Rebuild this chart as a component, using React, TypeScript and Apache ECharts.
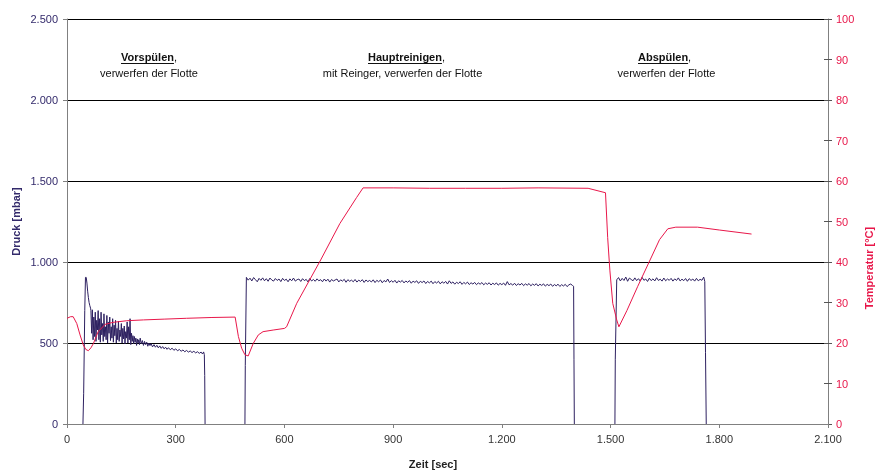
import React, { useEffect, useRef } from 'react';
import * as echarts from 'echarts';

// ---- Data ----
const xTicks = [0, 300, 600, 900, 1200, 1500, 1800, 2100];

// Vorspülen pressure [sec, mbar]
const pressureRinse1: number[][] = [
  [44, 0], [46, 190], [49, 700], [51, 905], [53, 905], [55, 870], [57, 820], [59, 780], [61, 750], [63, 730], [65, 715],
  [66, 700], [68, 560], [70, 705], [72, 520], [74, 660], [76, 540], [78, 690], [80, 510], [82, 640], [84, 580], [86, 700], [88, 520],
  [90, 650], [92, 505], [94, 690], [96, 550], [98, 620], [100, 510], [102, 680], [104, 540], [106, 600], [108, 520], [110, 670],
  [112, 500], [114, 630], [116, 560], [118, 660], [120, 515], [122, 600], [124, 530], [126, 650], [128, 505], [130, 610], [132, 545],
  [134, 640], [136, 500], [138, 590], [140, 520], [142, 635], [144, 510], [146, 580], [148, 540], [150, 620], [152, 500], [154, 590],
  [156, 525], [158, 605], [160, 495], [162, 570], [164, 530], [166, 630], [168, 500], [170, 600], [172, 520], [174, 650], [176, 490],
  [178, 560], [180, 510], [182, 545], [184, 495], [186, 540], [188, 505], [190, 530], [192, 485], [194, 525], [196, 500], [198, 520],
  [200, 490], [202, 530], [205, 495], [208, 515], [211, 485], [214, 510], [217, 490], [220, 505], [223, 480], [226, 500], [229, 484],
  [232, 496], [236, 476], [240, 490], [244, 474], [248, 486], [252, 470], [256, 482], [260, 467], [264, 478], [268, 464], [272, 474],
  [276, 461], [280, 471], [285, 458], [290, 468], [295, 455], [300, 464], [305, 452], [310, 460], [315, 449], [320, 457], [325, 446],
  [330, 454], [335, 444], [340, 451], [345, 441], [350, 449], [355, 439], [360, 446], [365, 436], [370, 444], [374, 432], [377, 445],
  [379, 428], [380, 300], [381, 0],
];

// Hauptreinigen plateau: samples every 5 s from 495 s
const mainRise: number[][] = [[491, 0], [492, 360]];
const mainStart = 495;
const mainStep = 5;
const pressureMain = [
  905, 888, 900, 883, 904, 891, 878, 899, 887, 902,
  884, 897, 881, 901, 889, 882, 898, 886, 895, 879,
  899, 886, 894, 878, 896, 884, 901, 882, 891, 895,
  880, 897, 885, 893, 877, 898, 883, 892, 881, 896,
  884, 891, 878, 895, 882, 894, 876, 892, 883, 889,
  895, 877, 890, 882, 893, 875, 891, 881, 888, 878,
  892, 876, 888, 880, 891, 874, 889, 879, 886, 877,
  890, 873, 887, 878, 889, 872, 886, 877, 895, 874,
  885, 875, 887, 870, 884, 876, 886, 871, 883, 874,
  885, 869, 882, 874, 884, 868, 881, 873, 883, 867,
  880, 871, 882, 866, 879, 870, 881, 865, 878, 869,
  880, 864, 884, 868, 877, 863, 875, 867, 878, 862,
  874, 865, 876, 861, 872, 864, 874, 860, 871, 863,
  873, 859, 870, 862, 872, 858, 869, 861, 871, 857,
  868, 860, 870, 856, 879, 859, 867, 857, 869, 855,
  866, 858, 868, 854, 865, 857, 867, 853, 864, 856,
  866, 852, 863, 855, 865, 851, 862, 854, 864, 850,
  861, 853, 863, 849, 860, 852, 862, 848, 859, 864,
  855,
];
const pressureMainEnd: number[][] = [[1398, 850], [1399, 400], [1400, 0]];

// Abspülen plateau: samples every 5 s from 1517 s
const rinseRise: number[][] = [[1512, 0], [1513, 400]];
const rinseStart = 1517;
const rinseStep = 5;
const pressureRinse2 = [
  890, 904, 883, 899, 886, 907, 881, 901, 892, 884,
  902, 885, 897, 882, 905, 887, 895, 880, 900, 885,
  896, 883, 903, 886, 894, 882, 901, 884, 895, 887,
  899, 882, 896, 886, 902, 883, 894, 885, 898, 881,
  897, 886, 895, 882, 899, 884, 893, 887, 907,
];
const pressureRinse2End: number[][] = [[1760, 880], [1762, 440], [1764, 0]];

// Temperature [sec, °C]
const temperature: number[][] = [
  [0, 26.1], [10, 26.5], [17, 26.5], [27, 24.8], [36, 22], [45, 19.5], [52, 18.4], [59, 18.1], [66, 18.8], [73, 19.9],
  [86, 22.8], [105, 24.6], [127, 25.1], [165, 25.5], [211, 25.7], [270, 25.9], [330, 26.1], [400, 26.3], [464, 26.4],
  [473, 21.6], [482, 18.7], [491, 17.1], [500, 16.8], [514, 19.9], [528, 22], [541, 22.8], [569, 23.2], [600, 23.6],
  [606, 24], [634, 29.8], [700, 40.5], [753, 49.5], [799, 55.9], [817, 58.3], [900, 58.3], [1000, 58.2], [1100, 58.2],
  [1200, 58.2], [1300, 58.3], [1438, 58.2], [1486, 57.1], [1492, 46], [1498, 38], [1506, 29.8], [1517, 25.7], [1523, 24],
  [1545, 28], [1575, 34], [1609, 40.5], [1635, 45.5], [1658, 48.2], [1680, 48.6], [1740, 48.6], [1800, 47.9], [1889, 46.9],
];

const fmt = (v: number) => String(v).replace(/\B(?=(\d{3})+(?!\d))/g, '.');

const FONT = '"Liberation Sans", Arial, sans-serif';
const PURPLE = '#332a6b';
const RED = '#e8174a';
const LINE_P = '#2d2060';

const measure = (text: string, font: string) => {
  const ctx = document.createElement('canvas').getContext('2d');
  if (!ctx) return text.length * 6;
  ctx.font = font;
  return ctx.measureText(text).width;
};

export default function App() {
  const ref = useRef<HTMLDivElement>(null);
  useEffect(() => {
    document.body.style.margin = '0';
    const chart = echarts.init(ref.current!, undefined, { renderer: 'svg' });

    const segments: number[][][] = [
      pressureRinse1,
      [...mainRise, ...pressureMain.map((v, i) => [mainStart + i * mainStep, v]), ...pressureMainEnd],
      [...rinseRise, ...pressureRinse2.map((v, i) => [rinseStart + i * rinseStep, v]), ...pressureRinse2End],
    ];

    const annotation = (bold: string, cx1: number, line2: string, cx2: number) => {
      const wb = measure(bold, `bold 11px ${FONT}`);
      const wc = measure(',', `11px ${FONT}`);
      const x = Math.round(cx1 - (wb + wc) / 2);
      return [
        {
          type: 'text', x, y: 57,
          style: {
            text: `{b|${bold}}{n|,}`, fill: '#111', fontSize: 11, fontFamily: FONT,
            textAlign: 'left', textVerticalAlign: 'middle',
            rich: {
              b: { fontWeight: 'bold', fontSize: 11, fontFamily: FONT, fill: '#111' },
              n: { fontSize: 11, fontFamily: FONT, fill: '#111' },
            },
          },
        },
        { type: 'line', shape: { x1: x, y1: 63.5, x2: x + wb, y2: 63.5 }, style: { stroke: '#111', lineWidth: 1 } },
        {
          type: 'text', x: cx2, y: 73,
          style: { text: line2, fill: '#111', fontSize: 11, fontFamily: FONT, textAlign: 'center', textVerticalAlign: 'middle' },
        },
      ];
    };

    chart.setOption({
      animation: false,
      textStyle: { fontFamily: FONT },
      grid: { left: 67, right: 47, top: 19, bottom: 46, containLabel: false },
      xAxis: {
        type: 'value', min: 0, max: 2100, interval: 300, z: 10,
        axisLine: { show: true, lineStyle: { color: '#808080', width: 1 } },
        axisTick: { show: true, length: 4, lineStyle: { color: '#808080' } },
        axisLabel: { color: '#333', fontSize: 11, margin: 9, formatter: (v: number) => fmt(v), customValues: xTicks },
        splitLine: { show: false },
      },
      yAxis: [
        {
          type: 'value', min: 0, max: 2500, interval: 500, position: 'left',
          axisLine: { show: true, lineStyle: { color: '#808080', width: 1 } },
          axisTick: { show: true, length: 4, lineStyle: { color: '#808080' } },
          axisLabel: { color: PURPLE, fontSize: 11, margin: 9, formatter: (v: number) => fmt(v) },
          splitLine: { show: true, showMinLine: false, lineStyle: { color: '#000', width: 1 } },
        },
        {
          type: 'value', min: 0, max: 100, interval: 10, position: 'right',
          axisLine: { show: true, lineStyle: { color: '#808080', width: 1 } },
          axisTick: { show: true, length: 4, lineStyle: { color: '#555' } },
          axisLabel: { color: RED, fontSize: 11, margin: 8 },
          splitLine: { show: false },
        },
        {
          type: 'value', min: 0, max: 100, interval: 10, position: 'right',
          axisLine: { show: false },
          axisTick: { show: true, inside: true, length: 4, lineStyle: { color: '#555' } },
          axisLabel: { show: false },
          splitLine: { show: false },
        },
      ],
      series: [
        ...segments.map((seg, i) => ({
          name: 'Druck', id: 'druck' + i, type: 'line', yAxisIndex: 0, data: seg, showSymbol: false,
          lineStyle: { color: LINE_P, width: 1 }, itemStyle: { color: LINE_P }, z: 2,
        })),
        {
          name: 'Temperatur', type: 'line', yAxisIndex: 1, data: temperature, showSymbol: false,
          lineStyle: { color: RED, width: 1 }, itemStyle: { color: RED }, z: 3,
        },
      ],
      graphic: [
        ...annotation('Vorspülen', 149.5, 'verwerfen der Flotte', 149),
        ...annotation('Hauptreinigen', 406.5, 'mit Reinger, verwerfen der Flotte', 402.5),
        ...annotation('Abspülen', 664.5, 'verwerfen der Flotte', 666.5),
        {
          type: 'text', x: 15.5, y: 221.5, rotation: Math.PI / 2,
          style: { text: 'Druck [mbar]', fill: PURPLE, fontSize: 11, fontWeight: 'bold', fontFamily: FONT, textAlign: 'center', textVerticalAlign: 'middle' },
        },
        {
          type: 'text', x: 868.5, y: 268, rotation: Math.PI / 2,
          style: { text: 'Temperatur [°C]', fill: RED, fontSize: 11, fontWeight: 'bold', fontFamily: FONT, textAlign: 'center', textVerticalAlign: 'middle' },
        },
        {
          type: 'text', x: 433, y: 464,
          style: { text: 'Zeit [sec]', fill: '#222', fontSize: 11, fontWeight: 'bold', fontFamily: FONT, textAlign: 'center', textVerticalAlign: 'middle' },
        },
      ],
    });
    return () => chart.dispose();
  }, []);
  return <div ref={ref} style={{ position: 'fixed', left: 0, top: 0, width: 875, height: 470 }} />;
}
